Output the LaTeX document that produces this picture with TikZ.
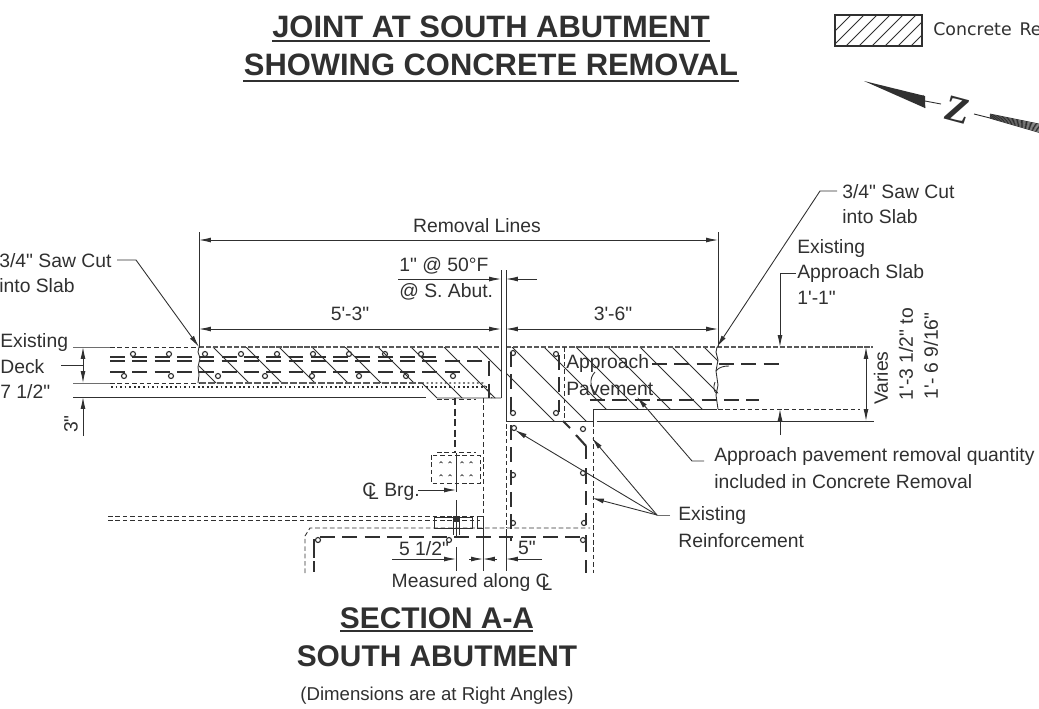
\documentclass[tikz,border=0pt]{standalone}
\usepackage{fontspec}
\newfontfamily\labelfont{Liberation Sans}
\newfontfamily\legendfont{DejaVu Sans}
\newfontfamily\northfont{Liberation Serif}
\usetikzlibrary{arrows.meta}
\definecolor{ink}{HTML}{303030}
\newcommand{\clsym}{C\kern-.42em\lower.32ex\hbox{L}}

\begin{document}
\begin{tikzpicture}[x=.02cm, y=-.02cm, line cap=butt]
    \tikzstyle{lbl}=[inner sep=0, anchor=west, text=ink, yshift=-.5pt, font=\fontsize{11}{12}\selectfont\labelfont]
    \tikzstyle{mid}=[inner sep=0, anchor=center, text=ink, font=\fontsize{11}{12}\selectfont\labelfont]
    \tikzstyle{ttl}=[inner sep=0, text=ink, font=\fontsize{17.6}{20}\selectfont\labelfont\bfseries]
    \tikzstyle{ttlb}=[inner sep=0, text=ink, font=\fontsize{17}{20}\selectfont\labelfont\bfseries]
    \tikzstyle{thin}=[line width=.5pt, draw=ink]
    \tikzstyle{fine}=[line width=.5pt, draw=ink, dash pattern=on 2.6pt off 1.6pt]
    \tikzstyle{edge}=[line width=.8pt, draw=ink!80, dash pattern=on 3pt off 1pt]
    \tikzstyle{rebar}=[line width=.85pt, draw=ink, dash pattern=on 8.5pt off 4.2pt]
    \tikzstyle{stub}=[line width=1.2pt, draw=ink]
    \tikzstyle{ring}=[line width=.65pt, draw=ink]
    \tikzstyle{dots}=[line width=.6pt, draw=ink, dash pattern=on 1pt off 1.6pt]
    \tikzstyle{dimen}=[line width=.5pt, draw=ink, -{Latex[length=6.8pt, width=2.8pt]}]
    \tikzstyle{dimtwo}=[line width=.5pt, draw=ink, {Latex[length=6.8pt, width=2.8pt]}-{Latex[length=6.8pt, width=2.8pt]}]
    \useasboundingbox (0,0) rectangle (1039,708);

    % titles
    \node[ttl] (T1) at (491,27) {JOINT AT SOUTH ABUTMENT};
    \node[ttl] (T2) at (491,65) {SHOWING CONCRETE REMOVAL};
    \draw[line width=.9pt, draw=ink] (272,41) -- (710,41);
    \draw[line width=.9pt, draw=ink] (243,81) -- (739,81);
    \node[ttlb] (T3) at (437,618) {SECTION A-A};
    \node[ttlb] (T4) at (437,656) {SOUTH ABUTMENT};
    \draw[line width=.9pt, draw=ink] (340,631) -- (533,631);
    \node[mid, font=\fontsize{10.6}{12}\selectfont\labelfont] (T5) at (437,696) {(Dimensions are at Right Angles)};

    % legend
    \begin{scope}
        \clip (835,15) rectangle (922,46);
        \foreach \x in {820,833,...,930} \draw[thin] (\x,46) -- (\x+31,15);
    \end{scope}
    \draw[line width=.8pt, draw=ink] (835,15) rectangle (922,46);
    \node[lbl, font=\fontsize{9.9}{12}\selectfont\legendfont] (LEG) at (933,28) {Concrete\hspace{.45em}Re};

    % north arrow
    \fill[ink] (864,81) -- (925,96) -- (925,108) -- cycle;
    \draw[thin] (923,95) -- (925,108);
    \draw[thin] (925,101) -- (941,104);
    \node[inner sep=0, text=ink, rotate=-15, font=\fontsize{21}{24}\selectfont\northfont\bfseries] (NZ) at (958,110) {Z};
    \draw[thin] (974,114) -- (990,118);
    \foreach \d in {0,1.2,...,9} \draw[line width=.45pt, draw=ink] (990,114+\d*.5) -- (1039,124+\d);

    % deck with removal hatch
    \begin{scope}
        \clip (199,347) -- (501,347) -- (501,398) -- (437,398) -- (422,383) -- (199,383) -- cycle;
        \foreach \x in {180,213,...,480} \draw[thin] (\x,347) -- (\x+60,407);
    \end{scope}
    \draw[thin] (199,347) -- (198,352) -- (200,358) -- (198,367) -- (199,375) -- (198,383);
    \draw[edge] (199,347) -- (501,347);
    \draw[edge, dash pattern=on 4pt off 1.2pt] (199,383) -- (422,383);
    \draw[thin] (422,383) -- (437,398) -- (501,398);
    \draw[fine] (437,399) -- (476,399);
    \draw[thin, draw=ink!70] (73,347) -- (110,347);
    \draw[fine] (110,347) -- (199,347);
    \draw[thin, draw=ink!70] (73,383) -- (110,383);
    \draw[fine] (110,383) -- (199,383);
    \draw[dots] (111,387) -- (486,387);
    \draw[dots] (422,383) -- (483,383) -- (492,398);
    \draw[thin] (73,397) -- (426,397);

    % deck bars
    \draw[rebar] (110,357) -- (436,357);
    \draw[rebar] (110,361) -- (489,361) -- (489,398);
    \draw[rebar] (110,372) -- (463,372);
    \foreach \x in {133,169,...,455} \draw[ring] (\x,354) circle [radius=2.5];
    \foreach \x in {124,171,...,455} \draw[ring] (\x,376) circle [radius=2.5];

    % approach pavement with removal hatch
    \begin{scope}
        \clip (506,347) -- (718,347) -- (718,409) -- (593,409) -- (593,421) -- (506,421) -- cycle;
        \foreach \x in {480,512,...,710} \draw[thin] (\x,347) -- (\x+80,427);
    \end{scope}
    \draw[edge] (506,347) -- (873,347);
    \draw[fine] (718,409) -- (860,409);
    \draw[thin] (506,347) -- (506,421) -- (593,421) -- (593,409) -- (717,409);
    \draw[thin] (597,421) -- (874,421);
    \draw[thin] (501,270) -- (501,398);
    \draw[thin] (506,270) -- (506,347);
    \draw[thin] (717,347) -- (716,352) -- (718,360) -- (716,371) -- (718,385) -- (716,395) -- (718,409);
    \draw[thin] (716,371) .. controls (719,367) and (724,366) .. (729,366);
    \draw[thin] (715,382) .. controls (713,387) and (714,391) .. (716,393);
    \draw[thin] (595,372) .. controls (589,378) and (588,390) .. (603,400);

    % approach bars
    \draw[rebar] (652,364) -- (782,364);
    \draw[rebar] (590,400) -- (759,400);
    \draw[rebar] (511,352) -- (511,412);
    \draw[rebar] (559,355) -- (559,412);
    \draw[fine] (564,347) -- (564,421);
    \foreach \x/\y in {513/353, 556/354, 513/413, 556/413} \draw[ring] (\x,\y) circle [radius=2.5];

    % abutment
    \draw[line width=1pt, draw=ink, dash pattern=on 4pt off 2pt] (455,398) -- (455,453);
    \draw[fine] (483,398) -- (483,520);
    \draw[fine] (506,424) -- (506,528);
    \draw[fine] (593,422) -- (593,573);
    \draw[fine] (305,573) -- (305,536) -- (310,528) -- (590,528);
    \draw[rebar, line width=1.2pt] (511,425) -- (511,541);
    \draw[rebar] (320,537) -- (586,537);
    \draw[line width=1pt, draw=ink] (314,539) -- (314,558);
    \draw[line width=1pt, draw=ink] (314,561) -- (314,572);
    \draw[stub] (563,421) -- (570,428);
    \draw[stub] (576,435) -- (586,446);
    \draw[stub] (586,446) -- (586,459);
    \draw[stub] (586,468) -- (586,484);
    \draw[stub] (586,491) -- (586,505);
    \draw[line width=.8pt, draw=ink] (586,513) -- (586,525);
    \draw[stub] (586,535) -- (586,552);
    \draw[stub] (586,560) -- (586,573);
    \foreach \x/\y in {514/428, 513/475, 513/523, 583/429, 583/473, 584/523, 318/540, 449/540, 583/540}
        \draw[ring] (\x,\y) circle [radius=2.5];

    % bearing
    \draw[fine] (431,455) rectangle (480,483);
    \draw[fine] (437,452) -- (476,452);
    \draw[thin] (456,453) -- (456,492);
    \draw[thin] (456,500) -- (456,517);
    \foreach \x in {441,450,462,471} {
        \draw[line width=.4pt, draw=ink] (\x-1.5,463) arc (180:360:1.5);
        \draw[line width=.4pt, draw=ink] (\x-1.5,476) arc (180:360:1.5);
    }
    \draw[fine] (108,516) -- (480,516);
    \draw[fine] (108,520) -- (480,520);
    \fill[ink] (452.5,516) rectangle (459.5,522);
    \draw[thin] (434,517) rectangle (472,528);
    \draw[thin] (477,516) rectangle (483,528);
    \draw[thin] (453,522) -- (453,535);
    \draw[thin] (456,522) -- (456,536);
    \draw[thin] (459,522) -- (459,535);
    \node[lbl] (BRG) at (362,491) {\clsym\ Brg.};
    \coordinate (BRGE) at (418,490);
    \coordinate (BRGT) at (456,490);
    \draw[dimen] (BRGE) -- (BRGT);

    % removal dimensions
    \coordinate (RA) at (199,240);
    \coordinate (RB) at (718,240);
    \coordinate (RC) at (199,329);
    \coordinate (RD) at (501,329);
    \coordinate (RE) at (506,329);
    \coordinate (RF) at (718,329);
    \draw[thin] (199,232) -- (199,347);
    \draw[thin] (718,232) -- (718,347);
    \draw[dimtwo] (RA) -- (RB);
    \draw[dimtwo] (RC) -- (RD);
    \draw[dimtwo] (RE) -- (RF);
    \node[mid] (RML) at (477,226) {Removal Lines};
    \node[mid] (D53) at (350,314) {5'-3"};
    \node[mid] (D36) at (613,314) {3'-6"};

    % joint gap
    \coordinate (GA) at (398,279);
    \coordinate (GB) at (501,279);
    \coordinate (GC) at (537,279);
    \coordinate (GD) at (506,279);
    \draw[dimen] (GA) -- (GB);
    \draw[dimen] (GC) -- (GD);
    \node[lbl] (G50) at (399,265) {1" @ 50°F};
    \node[lbl] (GAB) at (399,291) {@ S. Abut.};

    % saw cuts
    \node[lbl] (SCL1) at (-1,260) {3/4" Saw Cut};
    \node[lbl] (SCL2) at (-1,285) {into Slab};
    \node[lbl] (SCR1) at (842,191) {3/4" Saw Cut};
    \node[lbl] (SCR2) at (842,216) {into Slab};
    \coordinate (SCLK) at (136,260);
    \coordinate (SCLT) at (199,347);
    \coordinate (SCRK) at (820,191);
    \coordinate (SCRT) at (717,347);
    \draw[dimen] (117,260) -- (SCLK) -- (SCLT);
    \draw[dimen] (837,191) -- (SCRK) -- (SCRT);

    % deck dimensions
    \node[lbl] (DK1) at (0,342) {Existing};
    \node[lbl] (DK2) at (0,366) {Deck};
    \node[lbl] (DK3) at (0,391) {7 1/2"};
    \draw[thin] (61,365) -- (83,365);
    \coordinate (DKA) at (83,347);
    \coordinate (DKB) at (83,383);
    \coordinate (DKC) at (83,365);
    \draw[dimen] (DKC) -- (DKA);
    \draw[dimen] (DKC) -- (DKB);
    \coordinate (H3A) at (83,436);
    \coordinate (H3B) at (83,397);
    \draw[dimen] (H3A) -- (H3B);
    \node[mid, rotate=90] (H3) at (71,424) {3"};

    % approach slab and varies
    \node[lbl] (AS1) at (797,248) {Existing};
    \node[lbl] (AS2) at (797,273) {Approach Slab};
    \node[lbl] (AS3) at (797,297) {1'-1"};
    \coordinate (ASK) at (780,273);
    \coordinate (AST) at (780,347);
    \draw[dimen] (796,273) -- (ASK) -- (AST);
    \coordinate (ASU) at (780,435);
    \coordinate (ASV) at (780,409);
    \draw[dimen] (ASU) -- (ASV);
    \coordinate (VA) at (866,347);
    \coordinate (VB) at (866,421);
    \draw[dimtwo] (VA) -- (VB);
    \node[mid, rotate=90] (VAR) at (881,378) {Varies};
    \node[mid, rotate=90] (V1) at (906,354) {1'-3 1/2" to};
    \node[mid, rotate=90] (V2) at (931,356) {1'- 6 9/16"};

    % approach pavement labels
    \node[lbl] (AP1) at (566,363) {Approach};
    \node[lbl] (AP2) at (566,388) {Pavement};
    \node[lbl] (QT1) at (714,456) {Approach pavement removal quantity};
    \node[lbl] (QT2) at (714,481) {included in Concrete Removal};
    \coordinate (QTK) at (692,461);
    \coordinate (QTT) at (637,397);
    \draw[dimen] (704,461) -- (QTK) -- (QTT);

    % reinforcement leaders
    \node[lbl] (RE1) at (678,515) {Existing};
    \node[lbl] (RE2) at (678,540) {Reinforcement};
    \coordinate (REJ) at (657,515);
    \coordinate (RETA) at (515,430);
    \coordinate (RETB) at (592,438);
    \coordinate (RETC) at (592,498);
    \draw[thin, draw=ink!70] (670,515) -- (REJ);
    \draw[dimen] (REJ) -- (RETA);
    \draw[dimen] (REJ) -- (RETB);
    \draw[dimen] (REJ) -- (RETC);

    % bottom dimensions
    \draw[thin] (456,547) -- (456,571);
    \draw[thin] (483,522) -- (483,571);
    \draw[thin] (506,529) -- (506,571);
    \coordinate (BA) at (392,559);
    \coordinate (BB) at (456,559);
    \coordinate (BC) at (469,559);
    \coordinate (BD) at (483,559);
    \coordinate (BE) at (497,559);
    \coordinate (BF) at (542,559);
    \coordinate (BG) at (506,559);
    \draw[dimen] (BA) -- (BB);
    \draw[dimen] (BC) -- (BD);
    \draw[dimen] (BE) -- (BD);
    \draw[dimen] (BF) -- (BG);
    \node[mid] (B512) at (424,549) {5 1/2"};
    \node[mid] (B5) at (527,548) {5"};
    \node[mid] (MEAS) at (472,582) {Measured along \clsym};
\end{tikzpicture}
\end{document}
